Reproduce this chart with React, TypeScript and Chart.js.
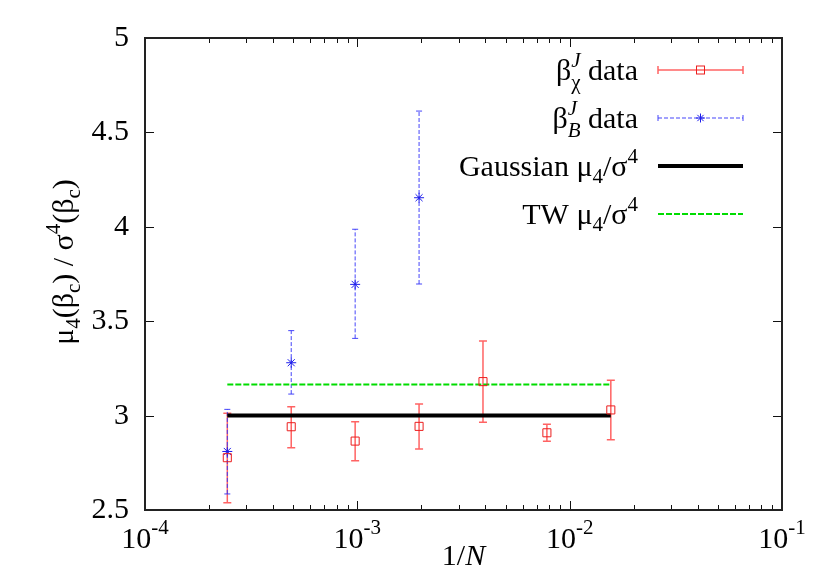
import React, { useEffect, useRef } from 'react';
import { Chart, registerables } from 'chart.js';

Chart.register(...registerables);

// ---------- data ----------
const chiInvN = [1 / 4096, 1 / 2048, 1 / 1024, 1 / 512, 1 / 256, 1 / 128, 1 / 64];
const chiValues = [2.777, 2.941, 2.865, 2.943, 3.18, 2.909, 3.03];
const chiLow = [2.539, 2.83, 2.761, 2.823, 2.965, 2.864, 2.872];
const chiHigh = [3.012, 3.047, 2.968, 3.061, 3.395, 2.954, 3.187];

const bInvN = [1 / 4096, 1 / 2048, 1 / 1024, 1 / 512];
const bValues = [2.81, 3.28, 3.695, 4.154];
const bLow = [2.585, 3.114, 3.409, 3.697];
const bHigh = [3.033, 3.45, 3.987, 4.613];

const lineRange = [1 / 4096, 1 / 64];
const gaussianLevel = 3.0;
const twLevel = 3.165;

const yTicks = [2.5, 3, 3.5, 4, 4.5, 5];
const yTickLabels = ['2.5', '3', '3.5', '4', '4.5', '5'];
const xDecades = [-4, -3, -2, -1];

const FONT = '"Liberation Serif", "Times New Roman", serif';

type Part = { t: string; size?: number; italic?: boolean; dy?: number; stack?: Part };

function drawRich(
  ctx: CanvasRenderingContext2D,
  parts: Part[],
  x: number,
  y: number,
  align: 'left' | 'right' | 'center',
  base: number
) {
  const fontOf = (p: Part) => `${p.italic ? 'italic ' : ''}${p.size ?? base}px ${FONT}`;
  const widths: number[] = [];
  let total = 0;
  for (const p of parts) {
    ctx.font = fontOf(p);
    let w = ctx.measureText(p.t).width;
    if (p.stack) {
      ctx.font = fontOf(p.stack);
      w = Math.max(w, ctx.measureText(p.stack.t).width);
    }
    widths.push(w);
    total += w;
  }
  let cx = align === 'left' ? x : align === 'right' ? x - total : x - total / 2;
  ctx.textAlign = 'left';
  ctx.textBaseline = 'alphabetic';
  parts.forEach((p, i) => {
    ctx.font = fontOf(p);
    ctx.fillText(p.t, cx, y + (p.dy || 0));
    if (p.stack) {
      ctx.font = fontOf(p.stack);
      ctx.fillText(p.stack.t, cx, y + (p.stack.dy || 0));
    }
    cx += widths[i];
  });
}

const RED = 'rgb(235,30,30)';
const RED_BAR = 'rgba(255,60,60,0.8)';
const BLUE = 'rgb(30,30,235)';
const BLUE_BAR = 'rgba(50,50,250,0.9)';
const GREEN = 'rgb(0,220,0)';

const BASE = 30;
const SMALL = 21;

const errorBarPlugin = {
  id: 'errorBars',
  beforeDatasetsDraw(chart: any) {
    const ctx: CanvasRenderingContext2D = chart.ctx;
    const xs = chart.scales.x;
    const ys = chart.scales.y;
    ctx.save();
    ctx.strokeStyle = RED_BAR;
    ctx.lineWidth = 1.5;
    ctx.setLineDash([]);
    chiInvN.forEach((v, i) => {
      const px = xs.getPixelForValue(v);
      const y1 = ys.getPixelForValue(chiLow[i]);
      const y2 = ys.getPixelForValue(chiHigh[i]);
      ctx.beginPath();
      ctx.moveTo(px, y1);
      ctx.lineTo(px, y2);
      ctx.moveTo(px - 4, y1);
      ctx.lineTo(px + 4, y1);
      ctx.moveTo(px - 4, y2);
      ctx.lineTo(px + 4, y2);
      ctx.stroke();
    });
    ctx.strokeStyle = BLUE_BAR;
    ctx.lineWidth = 1;
    bInvN.forEach((v, i) => {
      const px = xs.getPixelForValue(v);
      const y1 = ys.getPixelForValue(bLow[i]);
      const y2 = ys.getPixelForValue(bHigh[i]);
      ctx.setLineDash([4, 2]);
      ctx.beginPath();
      ctx.moveTo(px, y1);
      ctx.lineTo(px, y2);
      ctx.stroke();
      ctx.setLineDash([]);
      ctx.beginPath();
      ctx.moveTo(px - 3, y1);
      ctx.lineTo(px + 3, y1);
      ctx.moveTo(px - 3, y2);
      ctx.lineTo(px + 3, y2);
      ctx.stroke();
    });
    ctx.restore();
  },
};

const framePlugin = {
  id: 'frame',
  afterDraw(chart: any) {
    const ctx: CanvasRenderingContext2D = chart.ctx;
    const { left, right, top, bottom } = chart.chartArea;
    const xs = chart.scales.x;
    const ys = chart.scales.y;
    ctx.save();
    ctx.setLineDash([]);
    ctx.strokeStyle = '#111';
    ctx.lineWidth = 1;
    ctx.beginPath();
    yTicks.forEach((v) => {
      const py = Math.round(ys.getPixelForValue(v)) + 0.5;
      ctx.moveTo(left, py);
      ctx.lineTo(left + 9, py);
      ctx.moveTo(right, py);
      ctx.lineTo(right - 9, py);
    });
    xDecades.forEach((d, di) => {
      for (let k = 1; k <= 9; k++) {
        if (di === xDecades.length - 1 && k > 1) break;
        const v = k * Math.pow(10, d);
        const px = Math.round(xs.getPixelForValue(v)) + 0.5;
        const len = k === 1 ? 9 : 5;
        ctx.moveTo(px, bottom);
        ctx.lineTo(px, bottom - len);
        ctx.moveTo(px, top);
        ctx.lineTo(px, top + len);
      }
    });
    ctx.stroke();
    ctx.strokeStyle = '#222';
    ctx.lineWidth = 2;
    ctx.strokeRect(left, top, right - left, bottom - top);

    ctx.fillStyle = '#000';
    yTicks.forEach((v, i) => {
      const py = ys.getPixelForValue(v);
      drawRich(ctx, [{ t: yTickLabels[i] }], left - 16, py + 8, 'right', BASE);
    });
    xDecades.forEach((d) => {
      const px = xs.getPixelForValue(Math.pow(10, d));
      drawRich(ctx, [{ t: '10' }, { t: String(d), size: SMALL, dy: -14 }], px, bottom + 38, 'center', BASE);
    });
    drawRich(ctx, [{ t: '1/' }, { t: 'N', italic: true }], (left + right) / 2, bottom + 55, 'center', BASE);
    ctx.save();
    ctx.translate(73, 262);
    ctx.rotate(-Math.PI / 2);
    drawRich(
      ctx,
      [
        { t: 'μ' },
        { t: '4', size: SMALL, dy: 7 },
        { t: '(β' },
        { t: 'c', size: SMALL, dy: 7 },
        { t: ') / σ' },
        { t: '4', size: SMALL, dy: -13 },
        { t: '(β' },
        { t: 'c', size: SMALL, dy: 7 },
        { t: ')' },
      ],
      0,
      0,
      'center',
      BASE
    );
    ctx.restore();

    // legend
    const textRight = 638;
    const s1 = 658;
    const s2 = 743;
    const mid = (s1 + s2) / 2;
    const rows = [70, 118, 166, 214];
    ctx.fillStyle = '#000';
    drawRich(
      ctx,
      [{ t: 'β' }, { t: 'J', size: SMALL, italic: true, dy: -13, stack: { t: 'χ', size: SMALL, dy: 9 } }, { t: ' data' }],
      textRight,
      rows[0] + 10,
      'right',
      BASE
    );
    drawRich(
      ctx,
      [{ t: 'β' }, { t: 'J', size: SMALL, italic: true, dy: -13, stack: { t: 'B', size: SMALL, italic: true, dy: 9 } }, { t: ' data' }],
      textRight,
      rows[1] + 10,
      'right',
      BASE
    );
    drawRich(
      ctx,
      [{ t: 'Gaussian μ' }, { t: '4', size: SMALL, dy: 7 }, { t: '/σ' }, { t: '4', size: SMALL, dy: -13 }],
      textRight,
      rows[2] + 10,
      'right',
      BASE
    );
    drawRich(
      ctx,
      [{ t: 'TW μ' }, { t: '4', size: SMALL, dy: 7 }, { t: '/σ' }, { t: '4', size: SMALL, dy: -13 }],
      textRight,
      rows[3] + 10,
      'right',
      BASE
    );
    ctx.strokeStyle = RED_BAR;
    ctx.lineWidth = 1.5;
    ctx.beginPath();
    ctx.moveTo(s1, rows[0]);
    ctx.lineTo(s2, rows[0]);
    ctx.moveTo(s1, rows[0] - 4);
    ctx.lineTo(s1, rows[0] + 4);
    ctx.moveTo(s2, rows[0] - 4);
    ctx.lineTo(s2, rows[0] + 4);
    ctx.stroke();
    ctx.strokeStyle = RED;
    ctx.lineWidth = 1;
    ctx.strokeRect(mid - 4, rows[0] - 4, 8, 8);

    ctx.strokeStyle = BLUE_BAR;
    ctx.setLineDash([4, 2]);
    ctx.beginPath();
    ctx.moveTo(s1, rows[1]);
    ctx.lineTo(s2, rows[1]);
    ctx.stroke();
    ctx.setLineDash([]);
    ctx.beginPath();
    ctx.moveTo(s1, rows[1] - 3);
    ctx.lineTo(s1, rows[1] + 3);
    ctx.moveTo(s2, rows[1] - 3);
    ctx.lineTo(s2, rows[1] + 3);
    ctx.stroke();
    ctx.strokeStyle = BLUE;
    ctx.beginPath();
    const r = 4.5;
    ctx.moveTo(mid - r, rows[1]);
    ctx.lineTo(mid + r, rows[1]);
    ctx.moveTo(mid, rows[1] - r);
    ctx.lineTo(mid, rows[1] + r);
    ctx.moveTo(mid - r * 0.7, rows[1] - r * 0.7);
    ctx.lineTo(mid + r * 0.7, rows[1] + r * 0.7);
    ctx.moveTo(mid - r * 0.7, rows[1] + r * 0.7);
    ctx.lineTo(mid + r * 0.7, rows[1] - r * 0.7);
    ctx.stroke();

    ctx.strokeStyle = '#000';
    ctx.lineWidth = 4;
    ctx.beginPath();
    ctx.moveTo(s1, rows[2]);
    ctx.lineTo(s2, rows[2]);
    ctx.stroke();

    ctx.strokeStyle = GREEN;
    ctx.lineWidth = 2;
    ctx.setLineDash([6, 2]);
    ctx.beginPath();
    ctx.moveTo(s1, rows[3]);
    ctx.lineTo(s2, rows[3]);
    ctx.stroke();
    ctx.restore();
  },
};

export default function App() {
  const ref = useRef<HTMLCanvasElement | null>(null);
  useEffect(() => {
    document.body.style.margin = '0';
    const canvas = ref.current;
    if (!canvas) return;
    const chart = new Chart(canvas, {
      type: 'scatter',
      data: {
        datasets: [
          {
            label: 'chi',
            data: chiInvN.map((x, i) => ({ x, y: chiValues[i] })),
            pointStyle: 'rect',
            pointRadius: 5.7,
            pointBorderWidth: 1,
            borderColor: RED,
            backgroundColor: 'rgba(0,0,0,0)',
            showLine: false,
          },
          {
            label: 'B',
            data: bInvN.map((x, i) => ({ x, y: bValues[i] })),
            pointStyle: 'star',
            pointRadius: 5,
            pointBorderWidth: 1,
            borderColor: BLUE,
            backgroundColor: BLUE,
            showLine: false,
          },
          {
            label: 'Gaussian',
            data: lineRange.map((x) => ({ x, y: gaussianLevel })),
            showLine: true,
            borderColor: '#000',
            borderWidth: 4,
            pointRadius: 0,
          },
          {
            label: 'TW',
            data: lineRange.map((x) => ({ x, y: twLevel })),
            showLine: true,
            borderColor: GREEN,
            borderWidth: 2,
            borderDash: [6, 2],
            pointRadius: 0,
          },
        ],
      },
      options: {
        animation: false,
        responsive: false,
        maintainAspectRatio: false,
        devicePixelRatio: 1,
        layout: { padding: { left: 145, top: 38, right: 48, bottom: 71 } },
        plugins: { legend: { display: false }, tooltip: { enabled: false } },
        scales: {
          x: { type: 'logarithmic', min: 1e-4, max: 1e-1, display: false },
          y: { type: 'linear', min: 2.5, max: 5, display: false },
        },
      },
      plugins: [errorBarPlugin, framePlugin],
    });
    return () => chart.destroy();
  }, []);
  return (
    <div style={{ position: 'absolute', left: 0, top: 0, width: 830, height: 581, background: '#fff' }}>
      <canvas ref={ref} width={830} height={581} style={{ width: 830, height: 581 }} />
    </div>
  );
}
